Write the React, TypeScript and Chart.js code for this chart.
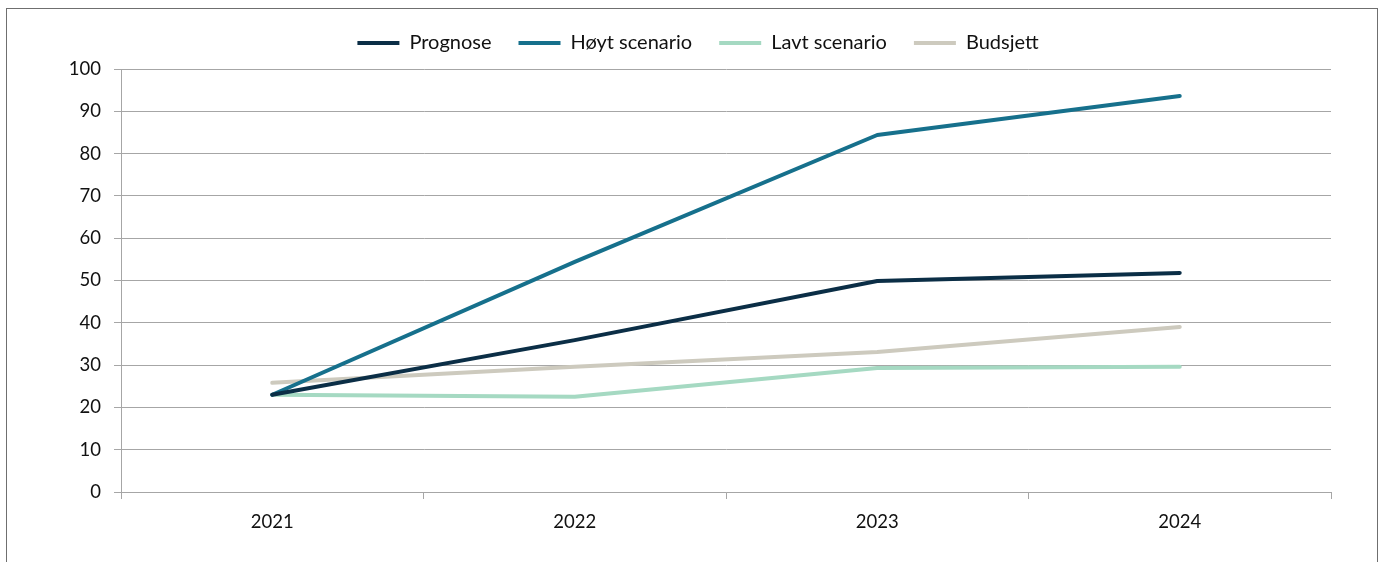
import React, { useEffect, useRef } from "react";
import { Chart, registerables } from "chart.js";

Chart.register(...registerables);

const categories = ["2021", "2022", "2023", "2024"];
const prognose = [23.0, 35.9, 49.9, 51.8];
const hoyt = [23.0, 54.4, 84.4, 93.6];
const lavt = [23.0, 22.5, 29.3, 29.6];
const budsjett = [25.8, 29.6, 33.1, 39.0];
const seriesNames = ["Prognose", "Høyt scenario", "Lavt scenario", "Budsjett"];
const seriesColors = ["#0b2e46", "#16708c", "#a5d9c2", "#cdcabe"];

const FONT = "Lato";

export default function App() {
  const ref = useRef<HTMLCanvasElement | null>(null);

  useEffect(() => {
    if (!ref.current) return;
    const values = [prognose, hoyt, lavt, budsjett];
    const legendHeightPlugin = {
      id: "legendHeight",
      beforeInit(chart: any) {
        const legend = chart.legend;
        if (!legend) return;
        const fit = legend.fit;
        legend.fit = function () {
          fit.call(this);
          this.height = 63;
        };
      },
    };
    const chart = new Chart(ref.current, {
      type: "line",
      data: {
        labels: categories,
        datasets: values.map((v, i) => ({
          label: seriesNames[i],
          data: v,
          borderColor: seriesColors[i],
          backgroundColor: seriesColors[i],
          borderWidth: 4,
          borderCapStyle: "round",
          borderJoinStyle: "round",
          pointRadius: 0,
          pointHoverRadius: 0,
          tension: 0,
          fill: false,
        })),
      },
      options: {
        animation: false,
        responsive: false,
        maintainAspectRatio: false,
        layout: { padding: { left: 65, right: 53, top: 6, bottom: 0 } },
        plugins: {
          tooltip: { enabled: false },
          legend: {
            position: "top",
            align: "center",
            labels: {
              usePointStyle: true,
              pointStyle: "line",
              pointStyleWidth: 42,
              boxHeight: 4,
              padding: 27,
              color: "#111",
              font: { family: FONT, size: 20 },
            },
          },
        },
        scales: {
          x: {
            offset: true,
            afterFit: (s: any) => {
              s.height = 70;
            },
            grid: {
              offset: true,
              drawOnChartArea: false,
              drawTicks: true,
              tickLength: 7,
              color: "#a6a6a6",
            },
            border: { color: "#a6a6a6" },
            ticks: {
              color: "#111",
              padding: 12,
              font: { family: FONT, size: 18.5 },
            },
          },
          y: {
            min: 0,
            max: 100,
            afterFit: (s: any) => {
              s.width = 56;
            },
            grid: {
              color: "#a6a6a6",
              tickLength: 7,
            },
            border: { color: "#a6a6a6" },
            ticks: {
              stepSize: 10,
              color: "#111",
              padding: 13,
              font: { family: FONT, size: 18.5 },
            },
          },
        },
      },
      plugins: [legendHeightPlugin],
    } as any);
    return () => chart.destroy();
  }, []);

  return (
    <div>
      <div
        style={{
          position: "fixed",
          left: 6,
          top: 8,
          width: 1372,
          height: 600,
          border: "1px solid #6f6f6f",
          boxSizing: "border-box",
        }}
      />
      <canvas
        ref={ref}
        width={1384}
        height={562}
        style={{ position: "fixed", left: 0, top: 0, width: 1384, height: 562 }}
      />
    </div>
  );
}
